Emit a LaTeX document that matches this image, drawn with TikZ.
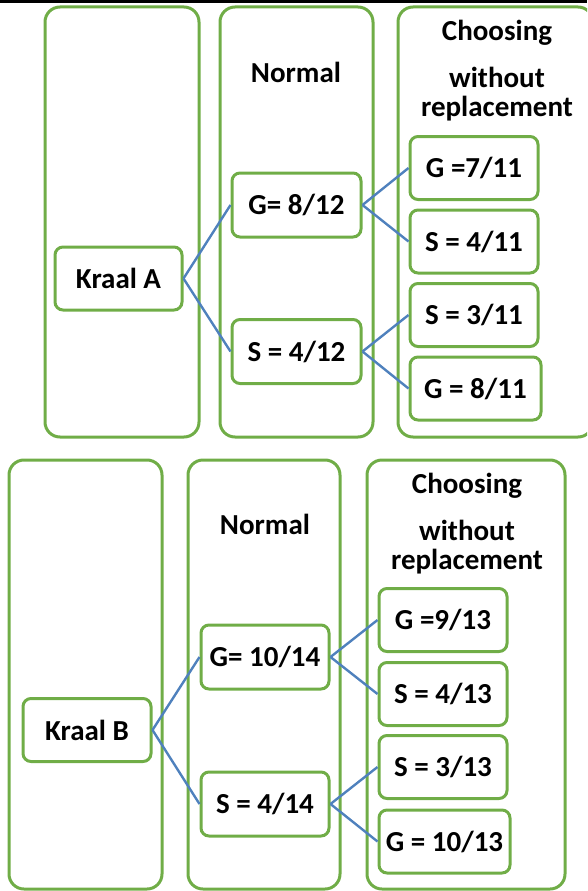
\documentclass[tikz,border=0pt]{standalone}
\usepackage{fontspec}
\setmainfont{Carlito}
\definecolor{grn}{HTML}{70AD47}
\definecolor{blu}{HTML}{4F81BD}
\begin{document}
\begin{tikzpicture}[x=1pt,y=-1pt,
  colbox/.style={draw=grn,line width=3pt,rounded corners=15pt,rectangle,inner sep=0pt},
  leaf/.style={draw=grn,line width=3pt,rounded corners=8pt,rectangle,inner sep=0pt,
    minimum width=128pt,minimum height=63pt,font=\fontsize{29}{34}\selectfont\bfseries},
  lbl/.style={inner sep=0pt,font=\fontsize{29}{34}\selectfont\bfseries},
  conn/.style={draw=blu,line width=2.4pt}]
\useasboundingbox (0,0) rectangle (587,891);
\clip (0,0) rectangle (587,891);
\fill[black] (0,0) rectangle (587,3.5);
% ---------- top tree ----------
\node[colbox,minimum width=154pt,minimum height=430pt] (ta1) at (122,222) {};
\node[colbox,minimum width=153pt,minimum height=430pt] (ta2) at (296.5,222) {};
\node[colbox,minimum width=195pt,minimum height=430pt] (ta3) at (495.5,222) {};
\node[lbl] (tnormal) at (296,72) {Normal};
\node[lbl] (tch1) at (497,33) {Choosing};
\node[lbl] (tch2) at (497,77) {without};
\node[lbl] (tch3) at (497,109) {replacement};
\node[leaf,minimum width=127pt] (ka) at (118.5,278.5) {Kraal A};
\node[leaf,minimum width=129pt,minimum height=64pt] (tg) at (296.5,205) {G= 8/12};
\node[leaf,minimum width=129pt,minimum height=64pt] (ts) at (296.5,351.5) {S = 4/12};
\node[leaf] (tgg) at (474,168) {G =7/11};
\node[leaf] (tgs) at (474,241.5) {S = 4/11};
\node[leaf] (tss) at (474,315) {S = 3/11};
\node[leaf,minimum width=131pt] (tsg) at (475.5,388.5) {G = 8/11};
\draw[conn] (ka.east) -- (tg.west);
\draw[conn] (ka.east) -- (ts.west);
\draw[conn] (tg.east) -- (tgg.west);
\draw[conn] (tg.east) -- (tgs.west);
\draw[conn] (ts.east) -- (tss.west);
\draw[conn] (ts.east) -- (tsg.west);
% ---------- bottom tree ----------
\node[colbox,minimum width=153pt,minimum height=429pt] (ba1) at (85.5,674.5) {};
\node[colbox,minimum width=152pt,minimum height=429pt] (ba2) at (264,674.5) {};
\node[colbox,minimum width=198pt,minimum height=429pt] (ba3) at (466,674.5) {};
\node[lbl] (bnormal) at (265,524) {Normal};
\node[lbl] (bch1) at (467,486) {Choosing};
\node[lbl] (bch2) at (467,530) {without};
\node[lbl] (bch3) at (467,562) {replacement};
\node[leaf] (kb) at (87,730) {Kraal B};
\node[leaf,minimum height=64pt] (bg) at (265,657) {G= 10/14};
\node[leaf,minimum height=64pt] (bs) at (265,804) {S = 4/14};
\node[leaf] (bgg) at (443,620) {G =9/13};
\node[leaf] (bgs) at (443,694) {S = 4/13};
\node[leaf] (bss) at (443,767) {S = 3/13};
\node[leaf,minimum width=131pt] (bsg) at (444.5,841.5) {G = 10/13};
\draw[conn] (kb.east) -- (bg.west);
\draw[conn] (kb.east) -- (bs.west);
\draw[conn] (bg.east) -- (bgg.west);
\draw[conn] (bg.east) -- (bgs.west);
\draw[conn] (bs.east) -- (bss.west);
\draw[conn] (bs.east) -- (bsg.west);
\end{tikzpicture}
\end{document}
